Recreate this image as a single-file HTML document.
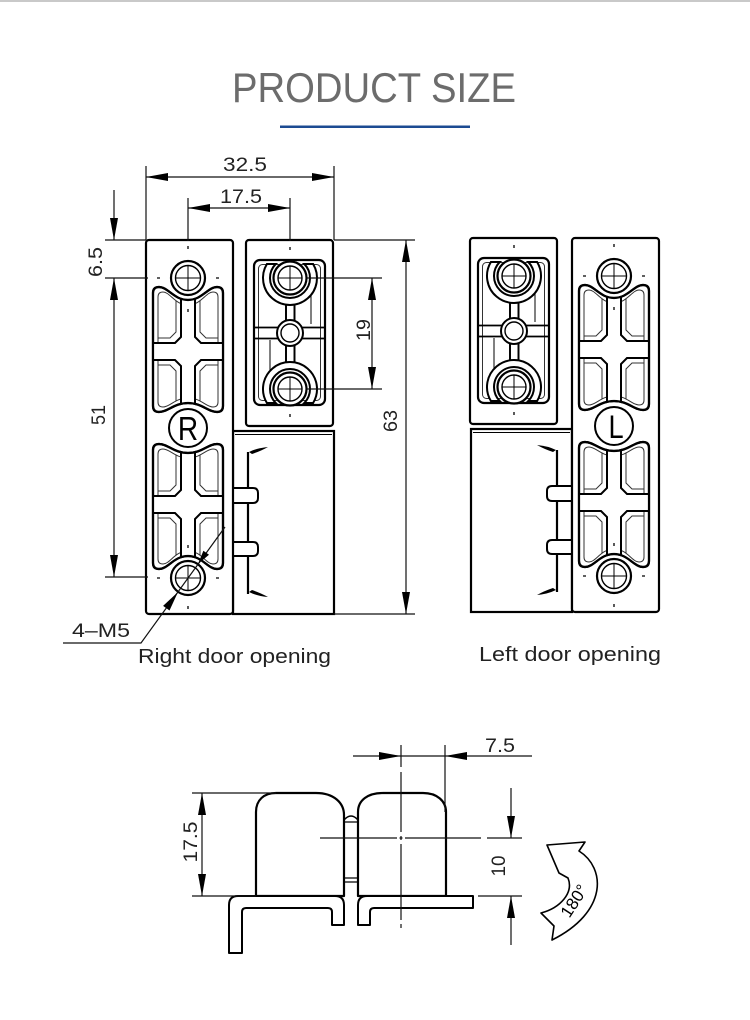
<!DOCTYPE html>
<html>
<head>
<meta charset="utf-8">
<style>
html,body{margin:0;padding:0;background:#fff;}
svg{display:block;}
text{font-family:"Liberation Sans",Arial,sans-serif;}
</style>
</head>
<body>
<svg width="750" height="1020" viewBox="0 0 750 1020" xmlns="http://www.w3.org/2000/svg">
<defs>
  <marker id="ar" viewBox="0 0 22 8" refX="22" refY="4" markerWidth="22" markerHeight="8" markerUnits="userSpaceOnUse" orient="auto-start-reverse">
    <path d="M0 0 L22 4 L0 8 Z" fill="#000"/>
  </marker>
  <clipPath id="cpo" clipPathUnits="userSpaceOnUse">
    <path d="M153 293 Q153 287 159 287 C168 287 174 300 188 300 C202 300 208 287 217 287 Q223 287 223 293 L223 406 Q223 412 217 412 C208 412 202 403 188 403 C174 403 168 412 159 412 Q153 412 153 406 Z"/>
  </clipPath>
  <clipPath id="cpi" clipPathUnits="userSpaceOnUse">
    <path d="M158 297 Q158 292 163 292 C170 292 175 305 188 305 C201 305 206 292 213 292 Q218 292 218 297 L218 402 Q218 407 213 407 C206 407 201 398 188 398 C175 398 170 407 163 407 Q158 407 158 402 Z"/>
  </clipPath>

  <g id="PG">
    <path d="M153 293 Q153 287 159 287 C168 287 174 300 188 300 C202 300 208 287 217 287 Q223 287 223 293 L223 406 Q223 412 217 412 C208 412 202 403 188 403 C174 403 168 412 159 412 Q153 412 153 406 Z" fill="#fff" stroke="#000" stroke-width="2.2"/>
    <path d="M158 297 Q158 292 163 292 C170 292 175 305 188 305 C201 305 206 292 213 292 Q218 292 218 297 L218 402 Q218 407 213 407 C206 407 201 398 188 398 C175 398 170 407 163 407 Q158 407 158 402 Z" fill="none" stroke="#333" stroke-width="1"/>
    <path clip-path="url(#cpi)" d="M176 270 L176 332 L170 338 L140 338 L140 365 L170 365 L176 371 L176 430 L200 430 L200 371 L206 365 L240 365 L240 338 L206 338 L200 332 L200 270 Z" fill="none" stroke="#333" stroke-width="1"/>
    <path clip-path="url(#cpo)" d="M181 270 L181 337 L175 343 L140 343 L140 360 L175 360 L181 366 L181 430 L195 430 L195 366 L201 360 L240 360 L240 343 L201 343 L195 337 L195 270 Z" fill="#fff" stroke="#000" stroke-width="2"/>
    <path d="M153 293 Q153 287 159 287 C168 287 174 300 188 300 C202 300 208 287 217 287 Q223 287 223 293 L223 406 Q223 412 217 412 C208 412 202 403 188 403 C174 403 168 412 159 412 Q153 412 153 406 Z" fill="none" stroke="#000" stroke-width="2.2"/>
  </g>

  <g id="hL">
    <circle cx="188" cy="278" r="17" fill="#fff" stroke="#000" stroke-width="2.2"/>
    <circle cx="188" cy="278" r="12.5" fill="none" stroke="#000" stroke-width="1.4"/>
    <path d="M176 278 H200 M188 266 V290" stroke="#000" stroke-width="1"/>
  </g>

  <g id="LL">
    <rect x="146" y="240" width="87" height="374" rx="3" fill="#fff" stroke="#000" stroke-width="2.2"/>
    <use href="#PG"/>
    <use href="#PG" transform="translate(0,856) scale(1,-1)"/>
    <use href="#hL"/>
    <use href="#hL" y="300"/>
    <circle cx="188" cy="428" r="19" fill="#fff" stroke="#000" stroke-width="2"/>
    <path d="M188 246 v3 M157 278 h3 M216 278 h3 M188 309 v3 M188 545 v3 M157 578 h3 M216 578 h3 M188 606 v3" stroke="#000" stroke-width="1.3"/>
  </g>

  <g id="SL">
    <rect x="246" y="240" width="87" height="186" rx="3" fill="#fff" stroke="#000" stroke-width="2.2"/>
    <rect x="254" y="260" width="71" height="145" rx="6" fill="#fff" stroke="#000" stroke-width="2.2"/>
    <rect x="258.5" y="264.5" width="62" height="136" rx="4" fill="none" stroke="#333" stroke-width="1"/>
    <path d="M254 327.5 H325 M254 338.5 H325" stroke="#000" stroke-width="1.8"/>
    <path d="M286 300 V366 M294.5 300 V366" stroke="#000" stroke-width="1.8"/>
    <path d="M270 340 V380 M311 296 V324" stroke="#000" stroke-width="1"/>
    <path d="M266.9 264 A27 27 0 1 0 313.1 264 L304.3 264 A20 20 0 1 1 275.7 264 Z" fill="#fff" stroke="#000" stroke-width="2"/>
    <path d="M266.9 403 A27 27 0 1 1 313.1 403 L304.3 403 A20 20 0 1 0 275.7 403 Z" fill="#fff" stroke="#000" stroke-width="2"/>
    <rect x="287" y="306" width="6.5" height="14" fill="#fff"/>
    <rect x="287" y="347" width="6.5" height="14" fill="#fff"/>
    <path d="M286 305 V320 M294.5 305 V320 M286 346 V362 M294.5 346 V362" stroke="#000" stroke-width="1.8"/>
    <circle cx="290" cy="278" r="16.5" fill="#fff" stroke="#000" stroke-width="2.2"/>
    <circle cx="290" cy="278" r="12" fill="none" stroke="#000" stroke-width="1.4"/>
    <path d="M278 278 H302 M290 266 V290" stroke="#000" stroke-width="1"/>
    <circle cx="290" cy="389" r="16.5" fill="#fff" stroke="#000" stroke-width="2.2"/>
    <circle cx="290" cy="389" r="12" fill="none" stroke="#000" stroke-width="1.4"/>
    <path d="M278 389 H302 M290 377 V401" stroke="#000" stroke-width="1"/>
    <circle cx="290" cy="333" r="13" fill="#fff" stroke="#000" stroke-width="2"/>
    <circle cx="290" cy="333" r="9" fill="none" stroke="#000" stroke-width="1.4"/>
    <path d="M290 247 v3 M290 414 v3" stroke="#000" stroke-width="1.3"/>
  </g>

  <g id="BR">
    <rect x="233" y="431" width="101" height="183" fill="#fff" stroke="#000" stroke-width="2.2"/>
    <line x1="235" y1="434.5" x2="332" y2="434.5" stroke="#000" stroke-width="1"/>
    <line x1="248" y1="452" x2="248" y2="594" stroke="#000" stroke-width="2.2"/>
    <path d="M233 488 L253 488 Q258 488 258 493 L258 498 Q258 503 253 503 L233 503" fill="#fff" stroke="#000" stroke-width="2"/>
    <path d="M233 542 L253 542 Q258 542 258 547 L258 551 Q258 556 253 556 L233 556" fill="#fff" stroke="#000" stroke-width="2"/>
    <path d="M249 452 Q257 448 268 447 Q261 451 252 454 Z" fill="#000"/>
    <path d="M249 592 Q257 596 268 597 Q261 593 252 590 Z" fill="#000"/>
  </g>
</defs>

<rect x="0" y="0" width="750" height="2" fill="#c9c9c9"/>

<text x="232" y="102" font-size="42" fill="#6c6c6c" textLength="284" lengthAdjust="spacingAndGlyphs">PRODUCT SIZE</text>
<rect x="280" y="125.5" width="190" height="2.5" fill="#1c4b92"/>

<!-- RIGHT DOOR -->
<use href="#BR"/>
<use href="#LL"/>
<use href="#SL"/>
<text transform="translate(188,440) scale(0.85,1)" text-anchor="middle" font-size="33" fill="#000">R</text>

<!-- LEFT DOOR -->
<use href="#BR" transform="translate(805,-2) scale(-1,1)"/>
<use href="#LL" transform="translate(426,-2)"/>
<use href="#SL" transform="translate(224,-2)"/>
<text transform="translate(616,438) scale(0.85,1)" text-anchor="middle" font-size="32" fill="#000">L</text>

<g stroke="#111" stroke-width="1.2" fill="none">
  <line x1="146" y1="177" x2="334" y2="177" marker-start="url(#ar)" marker-end="url(#ar)"/>
  <line x1="146" y1="166" x2="146" y2="240"/>
  <line x1="334" y1="166" x2="334" y2="240"/>
  <line x1="188" y1="208" x2="290" y2="208" marker-start="url(#ar)" marker-end="url(#ar)"/>
  <line x1="188" y1="198" x2="188" y2="241"/>
  <line x1="290" y1="198" x2="290" y2="241"/>
  <line x1="114" y1="190" x2="114" y2="240" marker-end="url(#ar)"/>
  <line x1="114" y1="278" x2="114" y2="577" marker-start="url(#ar)" marker-end="url(#ar)"/>
  <line x1="105" y1="240" x2="146" y2="240"/>
  <line x1="105" y1="278" x2="148" y2="278"/>
  <line x1="105" y1="577" x2="148" y2="577"/>
  <line x1="372" y1="278" x2="372" y2="389" marker-start="url(#ar)" marker-end="url(#ar)"/>
  <line x1="307" y1="278" x2="382" y2="278"/>
  <line x1="307" y1="389" x2="382" y2="389"/>
  <line x1="406" y1="240" x2="406" y2="614" marker-start="url(#ar)" marker-end="url(#ar)"/>
  <line x1="334" y1="240" x2="415" y2="240"/>
  <line x1="334" y1="614" x2="415" y2="614"/>
  <polyline points="225,527 141,643 63,643"/>
</g>
<polygon points="178,592 169.5,610.5 163.1,605.9" fill="#000"/>
<polygon points="198,564 209,554.7 203.4,550.7" fill="#000"/>

<g font-size="19" fill="#222">
  <text x="223" y="171" textLength="44" lengthAdjust="spacingAndGlyphs">32.5</text>
  <text x="220" y="203" textLength="42" lengthAdjust="spacingAndGlyphs">17.5</text>
  <text transform="translate(102,262) rotate(-90)" text-anchor="middle" textLength="30" lengthAdjust="spacingAndGlyphs">6.5</text>
  <text transform="translate(105,415) rotate(-90)" text-anchor="middle" textLength="20" lengthAdjust="spacingAndGlyphs">51</text>
  <text transform="translate(370,330) rotate(-90)" text-anchor="middle" textLength="22" lengthAdjust="spacingAndGlyphs">19</text>
  <text transform="translate(397,421) rotate(-90)" text-anchor="middle" textLength="22" lengthAdjust="spacingAndGlyphs">63</text>
  <text x="72" y="637" textLength="58" lengthAdjust="spacingAndGlyphs">4–M5</text>
</g>
<text x="138" y="663" font-size="20" fill="#222" textLength="193" lengthAdjust="spacingAndGlyphs">Right door opening</text>
<text x="479" y="661" font-size="20" fill="#222" textLength="182" lengthAdjust="spacingAndGlyphs">Left door opening</text>

<!-- BOTTOM DRAWING -->
<g fill="#fff" stroke="#000" stroke-width="2.2" stroke-linejoin="round">
  <path d="M256 896 L256 812 C256 800 264 793 276 793 L316 793 C334 793 344 803 344 815 L344 896 Z"/>
  <path d="M358 896 L358 812 C358 800 368 793 383 793 L423 793 C437 793 446 801 446 812 L446 896 Z"/>
  <path d="M229 953 L229 905 Q229 896 238 896 L335 896 Q344 896 344 905 L344 925 L332 925 L332 912 Q332 908 328 908 L246 908 Q242 908 242 912 L242 953 Z" stroke-width="2"/>
  <path d="M358 925 L358 905 Q358 896 367 896 L473 896 L473 908 L374 908 Q370 908 370 912 L370 925 Z" stroke-width="2"/>
</g>
<g stroke="#000" fill="none">
  <path d="M344 820 Q351 812 358 820" stroke-width="1.6"/>
  <path d="M344 822 H358 M344 878 H358 M344 882 H358" stroke-width="1.2"/>
</g>

<g stroke="#111" stroke-width="1.2" fill="none">
  <line x1="202" y1="793" x2="202" y2="896" marker-start="url(#ar)" marker-end="url(#ar)"/>
  <line x1="192" y1="793" x2="276" y2="793"/>
  <line x1="192" y1="896" x2="256" y2="896"/>
  <line x1="353" y1="756" x2="532" y2="756"/>
  <line x1="445" y1="745" x2="445" y2="812"/>
  <line x1="511" y1="788" x2="511" y2="838" marker-end="url(#ar)"/>
  <line x1="511" y1="945" x2="511" y2="896" marker-end="url(#ar)"/>
  <line x1="478" y1="896" x2="522" y2="896"/>
  <path d="M320 838 H397 M399.5 838 H402.5 M405 838 H481 M487 838 H522"/>
  <path d="M401 745 V767 M401 772 V832 M401 836 V840 M401 844 V920 M401 924 V928"/>
</g>
<polygon points="401,756 379,752 379,760" fill="#000"/>
<polygon points="445,756 467,752 467,760" fill="#000"/>

<g font-size="19" fill="#222">
  <text x="485" y="752" textLength="30" lengthAdjust="spacingAndGlyphs">7.5</text>
  <text transform="translate(197,842) rotate(-90)" text-anchor="middle" textLength="41" lengthAdjust="spacingAndGlyphs">17.5</text>
  <text transform="translate(505,866) rotate(-90)" text-anchor="middle" textLength="21" lengthAdjust="spacingAndGlyphs">10</text>
</g>

<!-- 180 degree arrow -->
<path d="M547 845 L585 842 L579 851 C606 868 608 912 552 940 L554 926 L541 913 C560 908 574 893 568 878 L559 873 Z" fill="#fff" stroke="#000" stroke-width="1.6" stroke-linejoin="round"/>
<text transform="translate(579,904) rotate(-57)" text-anchor="middle" font-size="17" fill="#000">180°</text>
</svg>
</body>
</html>
